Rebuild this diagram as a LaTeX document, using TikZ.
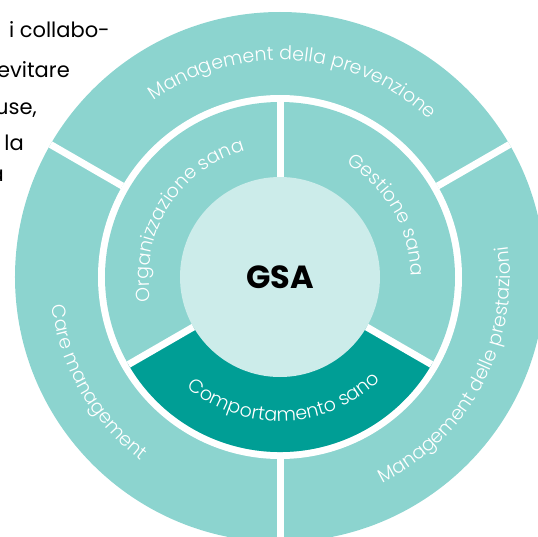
\documentclass[tikz,border=0pt]{standalone}
\usepackage{fontspec}
\setmainfont{Poppins}
\newfontfamily\lightfamily{Poppins Light}
\usetikzlibrary{decorations.text}

\definecolor{ringlight}{RGB}{140,212,207}
\definecolor{ringdark}{RGB}{0,158,149}
\definecolor{corelight}{RGB}{204,236,234}

\newcommand{\ringfont}{\lightfamily\fontsize{19}{19}\selectfont}

\tikzset{
  ringtext/.style={decorate, decoration={text along path, text align=center,
      text color=white, text={|\ringfont|#1}}},
  divider/.style={white, line width=7pt},
  bodytext/.style={anchor=base east, inner sep=0pt, font=\fontsize{21}{21}\selectfont}
}

\begin{document}
\begin{tikzpicture}
  \useasboundingbox (-280pt,-259pt) rectangle (258pt,277pt);
  \clip (-280pt,-259pt) rectangle (258pt,277pt);
	% rings
	\fill[ringlight] (0,0) circle[radius=265pt];
	\fill[white] (0,0) circle[radius=182pt];
	\fill[ringlight] (0,0) circle[radius=175pt];
	\fill[ringdark] (0,0) -- (210:175pt) arc[start angle=210, end angle=330, radius=175pt] -- cycle;
	\foreach \a in {30,150,270} \draw[divider] (\a:182pt) -- (\a:265pt);
	\foreach \a in {90,210,330} \draw[divider] (\a:100pt) -- (\a:175pt);
	\fill[corelight] (0,0) circle[radius=100pt];
	\node[font=\fontsize{32}{32}\selectfont\bfseries] (gsa) at (0,0) {GSA};
	% outer ring
	\path[ringtext={Management della prevenzione}] (146:217pt) arc[start angle=146, end angle=26, radius=217pt];
	\path[ringtext={Care management}] (150:230pt) arc[start angle=150, end angle=270, radius=230pt];
	\path[ringtext={Management delle prestazioni}] (272:230pt) arc[start angle=272, end angle=392, radius=230pt];
	% inner ring
	\path[ringtext={Organizzazione sana}] (208:131pt) arc[start angle=208, end angle=88, radius=131pt];
	\path[ringtext={Gestione sana}] (90:131pt) arc[start angle=90, end angle=-30, radius=131pt];
	\path[ringtext={Comportamento sano}] (212:144pt) arc[start angle=212, end angle=332, radius=144pt];
	% text cut off at the left
	\node[bodytext] (line1) at (-170pt,239pt) {i collabo-};
	\node[bodytext] (line2) at (-210pt,199pt) {evitare};
	\node[bodytext] (line3) at (-243pt,162pt) {use,};
	\node[bodytext] (line4) at (-256pt,127pt) {la};
	\node[bodytext] (line5) at (-276pt,96pt) {a};
\end{tikzpicture}
\end{document}
